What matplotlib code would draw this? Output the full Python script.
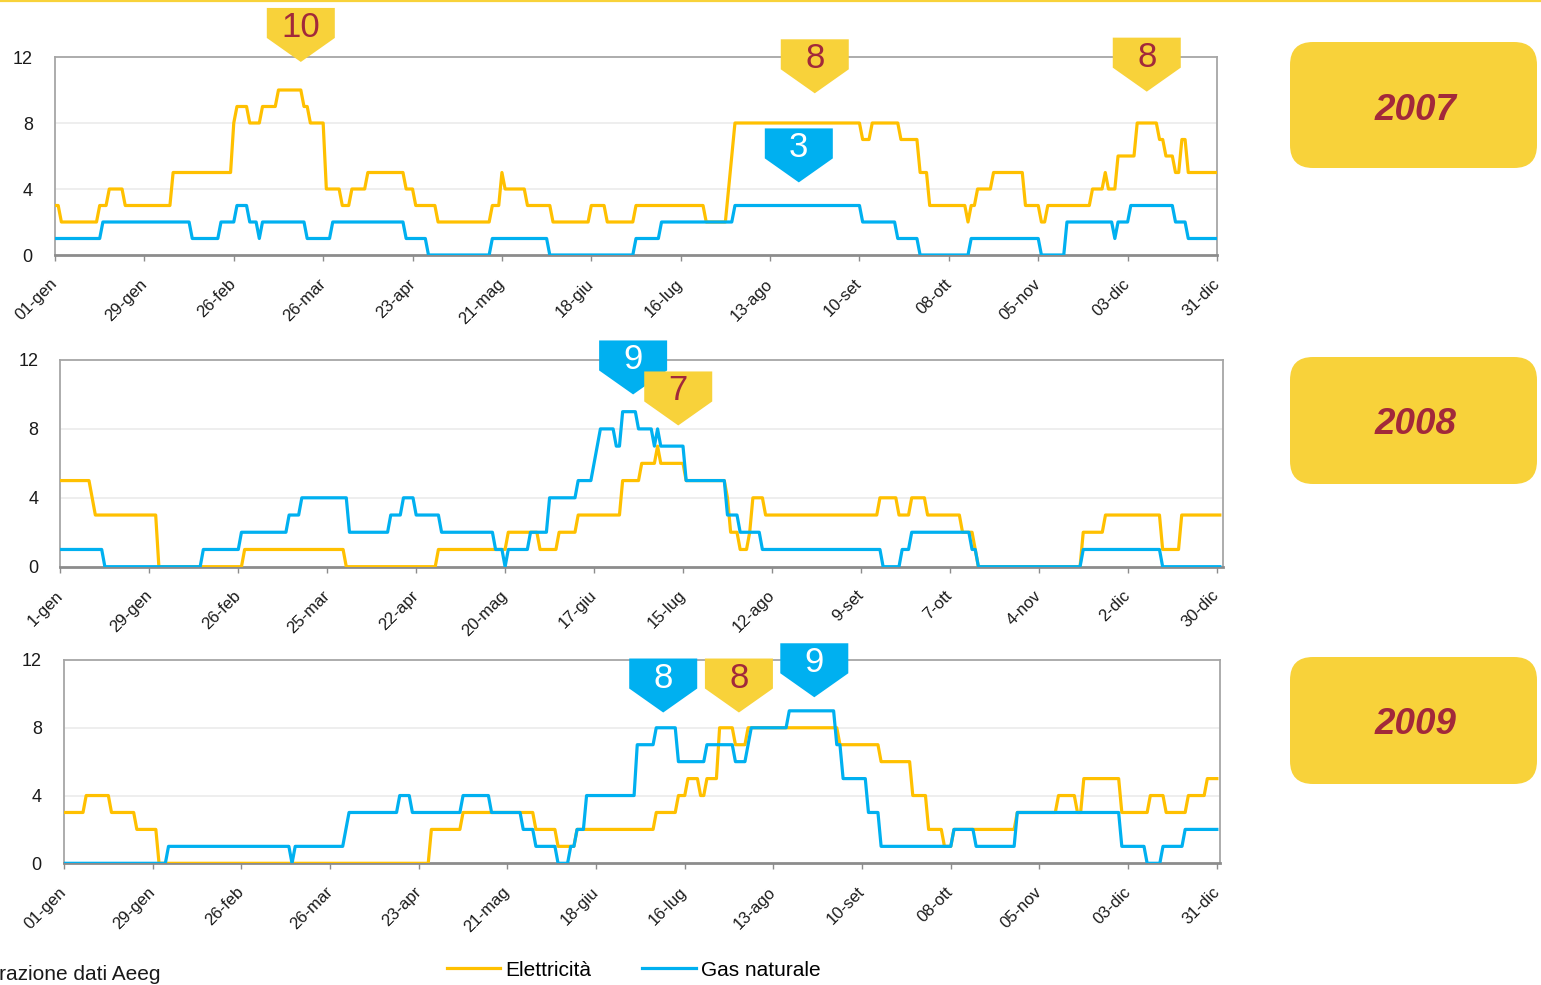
import numpy as np
import matplotlib.pyplot as plt
from matplotlib.patches import Polygon, FancyBboxPatch
from matplotlib.transforms import ScaledTranslation

plt.rcParams['font.family'] = ['Liberation Sans', 'DejaVu Sans']

W, H = 1541, 985
YELLOW = '#FFC000'
BLUE = '#00B0F0'
BOXCOL = '#F8D23A'
DARKRED = '#A2293A'

## data: (day of year, value from that day on) - step series
elec_2007 = [(0, 3), (2, 2), (14, 3), (17, 4), (22, 3), (37, 5), (56, 8), (57, 9), (61, 8), (65, 9),
             (70, 10), (78, 9), (80, 8), (85, 4), (90, 3), (93, 4), (98, 5), (110, 4), (113, 3), (120, 2),
             (137, 3), (140, 5), (141, 4), (148, 3), (156, 2), (168, 3), (173, 2), (182, 3), (204, 2),
             (211, 4), (212, 6), (213, 8), (253, 7), (256, 8), (265, 7), (271, 5), (274, 3), (286, 2),
             (287, 3), (289, 4), (294, 5), (304, 3), (309, 2), (311, 3), (325, 4), (329, 5), (330, 4),
             (333, 6), (339, 8), (346, 7), (348, 6), (351, 5), (353, 7), (355, 5)]
gas_2007 = [(0, 1), (15, 2), (43, 1), (52, 2), (57, 3), (61, 2), (64, 1), (65, 2), (79, 1), (87, 2),
            (110, 1), (117, 0), (137, 1), (155, 0), (182, 1), (190, 2), (213, 3), (253, 2), (264, 1),
            (271, 0), (287, 1), (309, 0), (317, 2), (332, 1), (333, 2), (337, 3), (351, 2), (355, 1)]

elec_2008 = [(0, 5), (10, 4), (11, 3), (31, 0), (58, 1), (90, 0), (119, 1), (141, 2), (151, 1), (157, 2),
             (163, 3), (177, 5), (183, 6), (188, 7), (189, 6), (197, 5), (210, 4), (211, 2), (214, 1),
             (217, 2), (218, 4), (222, 3), (258, 4), (264, 3), (268, 4), (273, 3), (284, 2), (288, 1),
             (289, 0), (322, 2), (329, 3), (347, 1), (353, 3)]
gas_2008 = [(0, 1), (14, 0), (45, 1), (57, 2), (72, 3), (76, 4), (91, 2), (104, 3), (108, 4), (112, 3),
            (120, 2), (137, 1), (140, 0), (141, 1), (148, 2), (154, 4), (163, 5), (168, 6), (169, 7),
            (170, 8), (175, 7), (177, 9), (182, 8), (187, 7), (188, 8), (189, 7), (197, 5), (210, 3),
            (214, 2), (221, 1), (259, 0), (265, 1), (268, 2), (287, 1), (289, 0), (322, 1), (347, 0)]

elec_2009 = [(0, 3), (7, 4), (15, 3), (23, 2), (30, 0), (116, 2), (126, 3), (149, 2), (156, 1), (162, 2),
             (187, 3), (194, 4), (197, 5), (201, 4), (203, 5), (207, 8), (212, 7), (216, 8), (245, 7),
             (258, 6), (268, 4), (273, 2), (278, 1), (281, 2), (301, 3), (314, 4), (320, 3), (322, 5),
             (334, 3), (343, 4), (348, 3), (355, 4), (361, 5)]
gas_2009 = [(0, 0), (33, 1), (72, 0), (73, 1), (89, 2), (90, 3), (106, 4), (110, 3), (126, 4), (135, 3),
            (145, 2), (149, 1), (156, 0), (160, 1), (162, 2), (165, 4), (181, 7), (187, 8), (194, 6),
            (203, 7), (212, 6), (216, 7), (217, 8), (229, 9), (244, 7), (246, 5), (254, 3), (258, 1),
            (281, 2), (288, 1), (301, 3), (334, 1), (342, 0), (347, 1), (354, 2)]

years = ['2007', '2008', '2009']
n_days = [365, 366, 365]
labels_a = ['01-gen', '29-gen', '26-feb', '26-mar', '23-apr', '21-mag', '18-giu', '16-lug',
            '13-ago', '10-set', '08-ott', '05-nov', '03-dic', '31-dic']
labels_b = ['1-gen', '29-gen', '26-feb', '25-mar', '22-apr', '20-mag', '17-giu', '15-lug',
            '12-ago', '9-set', '7-ott', '4-nov', '2-dic', '30-dic']
tick_labels = [labels_a, labels_b, labels_a]

# peak values shown in the callouts: (series, value)
peaks_2007 = [('elec', 10), ('elec', 8), ('gas', 3), ('elec', 8)]
peaks_2008 = [('gas', 9), ('elec', 7)]
peaks_2009 = [('gas', 8), ('elec', 8), ('gas', 9)]
peaks = [peaks_2007, peaks_2008, peaks_2009]

# layout (pixels): left, top, right, bottom of each plot area, plus x-limit
panels = [(55, 57, 1217, 255, 364), (60.4, 360, 1223, 566.7, 366), (64, 660, 1220, 863.3, 365)]
# callout tips in data coords (day, y)
callout_tips = [[(77, 11.7), (238, 9.8), (233, 4.4), (342, 9.9)],
                [(180.3, 10.0), (194.5, 8.2)],
                [(189.2, 8.9), (213.1, 8.9), (236.9, 9.8)]]
year_boxes_y = [(42, 168), (357, 484), (657, 784)]


def expand(steps, n):
    out = np.zeros(n)
    for d, v in steps:
        out[d:] = v
    return out


fig = plt.figure(figsize=(W / 100, H / 100), dpi=100)
bg = fig.add_axes([0, 0, 1, 1], zorder=10)
bg.set_xlim(0, W)
bg.set_ylim(H, 0)
bg.axis('off')

series = [(elec_2007, gas_2007), (elec_2008, gas_2008), (elec_2009, gas_2009)]
shift = ScaledTranslation(3 / 100, 0, fig.dpi_scale_trans)
for i, (l, t, r, b, xmax) in enumerate(panels):
    ax = fig.add_axes([l / W, 1 - b / H, (r - l) / W, (b - t) / H])
    n = n_days[i]
    days = np.arange(n)
    el, gs = series[i]
    ln_e, = ax.plot(days, expand(el, n), color=YELLOW, lw=2.3, label='Elettricità', zorder=3)
    ln_g, = ax.plot(days, expand(gs, n), color=BLUE, lw=2.3, label='Gas naturale', zorder=4)
    ax.set_xlim(0, xmax)
    ax.set_ylim(0, 12)
    ax.set_yticks([0, 4, 8, 12])
    ax.set_xticks(np.arange(0, 365, 28))
    ax.set_xticklabels(tick_labels[i], rotation=45, ha='right', va='center', rotation_mode='anchor')
    for lab in ax.get_xticklabels():
        lab.set_transform(lab.get_transform() + shift)
    ax.tick_params(axis='y', length=0, pad=16, labelsize=13, labelcolor='#1a1a1a')
    ax.tick_params(axis='x', length=4, width=1, color='#8c8c8c', pad=15, labelsize=12,
                   labelcolor='#1a1a1a')
    for g in (4, 8):
        ax.axhline(g, color='#ebebeb', lw=1.2, zorder=1)
    for s in ('left', 'right', 'top'):
        ax.spines[s].set_color('#a6a6a6')
        ax.spines[s].set_linewidth(1.3)
    ax.spines['bottom'].set_color('#8c8c8c')
    ax.spines['bottom'].set_linewidth(2)

    # callouts
    for (kind, val), (dx, dy) in zip(peaks[i], callout_tips[i]):
        tx, ty = bg.transData.inverted().transform(ax.transData.transform((dx, dy)))
        fc = BLUE if kind == 'gas' else BOXCOL
        tc = 'white' if kind == 'gas' else DARKRED
        verts = [(tx, ty), (tx - 34, ty - 24), (tx - 34, ty - 54), (tx + 34, ty - 54), (tx + 34, ty - 24)]
        bg.add_patch(Polygon(verts, closed=True, facecolor=fc, edgecolor='none'))
        bg.text(tx, ty - 25, str(val), ha='center', va='baseline', fontsize=25, color=tc)

    # year box
    y0, y1 = year_boxes_y[i]
    bg.add_patch(FancyBboxPatch((1290, y0), 247, y1 - y0, boxstyle='round,pad=0,rounding_size=23',
                                facecolor=BOXCOL, edgecolor='none'))
    bg.text(1416, y0 + 77.5, years[i], ha='center', va='baseline', fontsize=26.5,
            fontweight='bold', fontstyle='italic', color=DARKRED)

# top rule
bg.axhline(0.8, color=BOXCOL, lw=1.6)

# source (cut at the left edge, as in the original slide) and legend
bg.text(161, 975, 'Fonte: elaborazione dati Aeeg', ha='right', va='center', fontsize=15, color='#1a1a1a')
fig.legend(handles=[ln_e, ln_g], loc='center left', bbox_to_anchor=(447 / W, 1 - 970 / H), ncol=2,
           frameon=False, borderpad=0, borderaxespad=0, handlelength=2.55, handletextpad=0.25,
           columnspacing=2.45, fontsize=15)

fig.savefig('out.png', dpi=100)
